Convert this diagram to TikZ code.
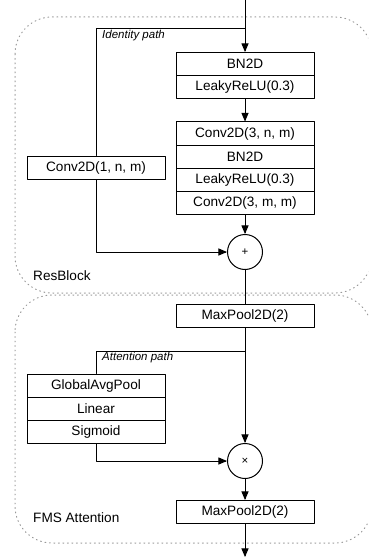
\documentclass[tikz,border=0pt]{standalone}
\usepackage{fontspec}
\setmainfont{Liberation Sans}
\usetikzlibrary{arrows}

\begin{document}
\begin{tikzpicture}[line cap=round,line join=round,>=triangle 45,x=1pt,y=-1pt,
		layer/.style={draw=black,line width=1pt,minimum width=138pt,minimum height=23pt,inner sep=0pt,font=\fontsize{13.6}{16}\selectfont},
		op/.style={draw=black,line width=1pt,circle,minimum size=35pt,inner sep=0pt,font=\fontsize{11.5}{13}\selectfont},
		block/.style={draw=black!40,line width=1pt,dash pattern=on 0.9pt off 3.6pt,rounded corners=37pt},
		pathlabel/.style={anchor=west,inner sep=0pt,font=\fontsize{11.5}{13}\selectfont\itshape},
		blocklabel/.style={anchor=west,inner sep=0pt,font=\fontsize{13.6}{16}\selectfont}]
		\useasboundingbox (0,0) rectangle (368,559);
		\clip (0,0) rectangle (368,559);
		\draw[block] (15,17) rectangle (372,293);
		\draw[block] (15,295) rectangle (372,543);
		% ResBlock
		\node[layer] (bna) at (245,64) {BN2D};
		\node[layer] (lra) at (245,87) {LeakyReLU(0.3)};
		\node[layer] (cvb) at (245,133.5) {Conv2D(3, n, m)};
		\node[layer] (bnb) at (245,156.5) {BN2D};
		\node[layer] (lrb) at (245,179.5) {LeakyReLU(0.3)};
		\node[layer] (cvc) at (245,202.5) {Conv2D(3, m, m)};
		\node[layer] (cva) at (96,167.5) {Conv2D(1, n, m)};
		\node[op] (plus) at (245,252) {+};
		\node[blocklabel] (resl) at (33,276) {ResBlock};
		% FMS Attention
		\node[layer] (poola) at (245,316) {MaxPool2D(2)};
		\node[layer] (gap) at (96,385.5) {GlobalAvgPool};
		\node[layer] (lin) at (96,408.5) {Linear};
		\node[layer] (sig) at (96,431.5) {Sigmoid};
		\node[op] (times) at (245,461) {×};
		\node[layer] (poolb) at (245,512) {MaxPool2D(2)};
		\node[blocklabel] (fmsl) at (33,518) {FMS Attention};
		\coordinate (in) at (245,0);
		\coordinate (idc) at (245,29);
		\coordinate (atc) at (245,351);
		\coordinate (out) at (245,557);
		\draw [line width=1pt,->] (in) -- (bna);
		\draw [line width=1pt] (idc) -| (cva.north);
		\draw [line width=1pt,->] (cva.south) |- (plus.west);
		\draw [line width=1pt,->] (lra) -- (cvb);
		\draw [line width=1pt,->] (cvc) -- (plus);
		\draw [line width=1pt] (plus) -- (poola);
		\draw [line width=1pt] (poola) -- (atc);
		\draw [line width=1pt] (atc) -| (gap.north);
		\draw [line width=1pt,->] (atc) -- (times);
		\draw [line width=1pt,->] (sig.south) |- (times.west);
		\draw [line width=1pt,->] (times) -- (poolb);
		\draw [line width=1pt,->] (poolb) -- (out);
		\node[pathlabel] (idl) at (102,36) {Identity path};
		\node[pathlabel] (atl) at (102,358) {Attention path};
	\end{tikzpicture}
\end{document}
